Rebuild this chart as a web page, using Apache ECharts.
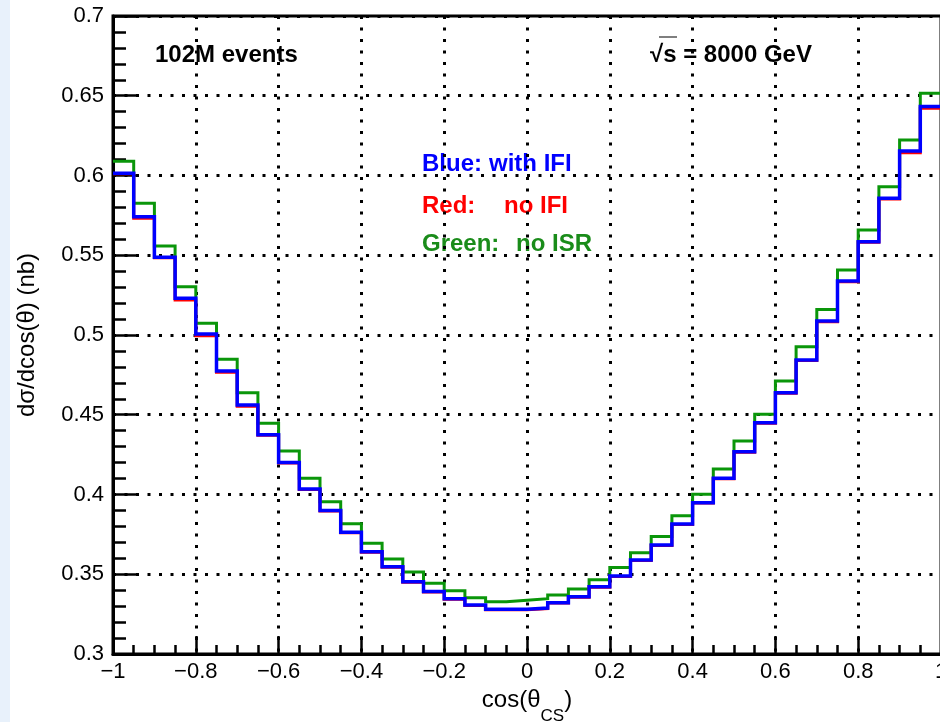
<!DOCTYPE html>
<html>
<head>
<meta charset="utf-8">
<title>cos theta CS</title>
<script src="https://cdn.jsdelivr.net/npm/echarts@6/dist/echarts.min.js"></script>
<style>
    html, body { margin: 0; padding: 0; background: #fff; }
    #chart { width: 940px; height: 722px; }
</style>
</head>
<body>
<div id="chart"></div>
<script>
// 40 bins of 0.05 from -1 to 1
const nBins = 40;
const xMin = -1;
const binWidth = 0.05;

const blueWithIFI = [
    0.6014, 0.5742, 0.5487, 0.5230, 0.5006, 0.4774, 0.4561, 0.4375, 0.4200, 0.4035,
    0.3899, 0.3763, 0.3641, 0.3547, 0.3453, 0.3392, 0.3347, 0.3307, 0.3280, 0.3280,
    0.3288, 0.3322, 0.3359, 0.3421, 0.3489, 0.3589, 0.3683, 0.3815, 0.3949, 0.4102,
    0.4268, 0.4450, 0.4638, 0.4843, 0.5088, 0.5339, 0.5585, 0.5857, 0.6154, 0.6432
];
const redNoIFI = [
    0.6011, 0.5732, 0.5484, 0.5220, 0.4996, 0.4766, 0.4553, 0.4372, 0.4197, 0.4032,
    0.3896, 0.3760, 0.3638, 0.3544, 0.3450, 0.3389, 0.3344, 0.3304, 0.3277, 0.3277,
    0.3285, 0.3319, 0.3356, 0.3418, 0.3486, 0.3586, 0.3680, 0.3812, 0.3946, 0.4099,
    0.4265, 0.4447, 0.4635, 0.4840, 0.5083, 0.5334, 0.5581, 0.5852, 0.6143, 0.6421
];
const greenNoISR = [
    0.6090, 0.5826, 0.5558, 0.5303, 0.5073, 0.4848, 0.4638, 0.4446, 0.4273, 0.4102,
    0.3955, 0.3817, 0.3694, 0.3596, 0.3514, 0.3443, 0.3397, 0.3353, 0.3328, 0.3337,
    0.3347, 0.3370, 0.3408, 0.3466, 0.3543, 0.3635, 0.3736, 0.3867, 0.4001, 0.4160,
    0.4336, 0.4503, 0.4712, 0.4927, 0.5160, 0.5408, 0.5658, 0.5930, 0.6223, 0.6516
];

const FONT = '"Liberation Sans", Arial, Helvetica, sans-serif';

// histogram -> step points at bin low edges plus the last upper edge
function toSteps(vals) {
    const pts = vals.map(function (v, i) {
        return [+(xMin + i * binWidth).toFixed(4), v];
    });
    pts.push([+(xMin + nBins * binWidth).toFixed(4), vals[vals.length - 1]]);
    return pts;
}

function histSeries(name, vals, color, width) {
    return {
        name: name,
        type: 'line',
        step: 'end',
        data: toSteps(vals),
        symbol: 'none',
        lineStyle: { color: color, width: width, join: 'miter', cap: 'butt' },
        silent: true
    };
}

function label(x, y, text, color) {
    return {
        type: 'text', x: x, y: y,
        style: { text: text, font: 'bold 24px ' + FONT, fill: color, textVerticalAlign: 'middle', verticalAlign: 'middle' }
    };
}

const dotted = { color: '#000', width: 3, type: [3, 8.5] };

const chartDom = document.getElementById('chart');
const myChart = echarts.init(chartDom);

const option = {
    animation: false,
    backgroundColor: '#fff',
    textStyle: { fontFamily: FONT },
    grid: {
        left: 113, top: 16, width: 828, bottom: 68,
        outerBoundsMode: 'none',
        containLabel: false,
        show: true, borderColor: '#000', borderWidth: 3, backgroundColor: 'transparent'
    },
    xAxis: {
        type: 'value',
        min: -1, max: 1, interval: 0.2,
        name: '{n|cos(θ}{s|CS}{n|)}',
        nameLocation: 'middle',
        nameGap: 31,
        nameTextStyle: {
            verticalAlign: 'top',
            rich: {
                n: { fontFamily: FONT, fontSize: 24, lineHeight: 24, verticalAlign: 'top', color: '#000' },
                s: { fontFamily: FONT, fontSize: 17, lineHeight: 37, verticalAlign: 'bottom', color: '#000' }
            }
        },
        axisLine: { onZero: false, lineStyle: { color: '#000', width: 3 } },
        axisTick: { inside: true, length: 18, lineStyle: { color: '#000', width: 2.5 } },
        minorTick: { show: true, splitNumber: 4, length: 9, lineStyle: { color: '#000', width: 2.5 } },
        axisLabel: {
            color: '#000', fontSize: 22, fontFamily: FONT, margin: 7,
            formatter: function (v) { return String(v).replace('-', '\u2212'); }
        },
        splitLine: { show: true, lineStyle: dotted }
    },
    yAxis: {
        type: 'value',
        min: 0.3, max: 0.7, interval: 0.05,
        name: 'dσ/dcos(θ) (nb)',
        nameLocation: 'middle',
        nameGap: 74,
        nameTextStyle: { color: '#000', fontSize: 24, fontFamily: FONT },
        axisLine: { show: true, onZero: false, lineStyle: { color: '#000', width: 3 } },
        axisTick: { show: true, inside: true, length: 26, lineStyle: { color: '#000', width: 2.5 } },
        minorTick: { show: true, splitNumber: 5, length: 13, lineStyle: { color: '#000', width: 2.5 } },
        axisLabel: { color: '#000', fontSize: 22, fontFamily: FONT, margin: 9 },
        splitLine: { show: true, lineStyle: dotted }
    },
    series: [
        histSeries('Green: no ISR', greenNoISR, '#0a960a', 3),
        histSeries('Red: no IFI', redNoIFI, '#ff0000', 3),
        histSeries('Blue: with IFI', blueWithIFI, '#0000ff', 3.5)
    ],
    graphic: [
        { type: 'rect', left: 0, top: 0, z: -10, shape: { width: 10, height: 722 }, style: { fill: '#e8f1fb' } },
        label(155, 55, '102M events', '#000'),
        label(650, 55, '√s = 8000 GeV', '#000'),
        // bar over the s of the root sign
        { type: 'line', shape: { x1: 659, y1: 37, x2: 677, y2: 37 }, style: { stroke: '#555', lineWidth: 1.5 } },
        label(422, 164, 'Blue:', '#0000ff'),
        label(489, 164, 'with IFI', '#0000ff'),
        label(422, 206, 'Red:', '#ff0000'),
        label(504, 206, 'no IFI', '#ff0000'),
        label(422, 244, 'Green:', '#1a8c1a'),
        label(516, 244, 'no ISR', '#1a8c1a')
    ]
};
myChart.setOption(option);
</script>
</body>
</html>
